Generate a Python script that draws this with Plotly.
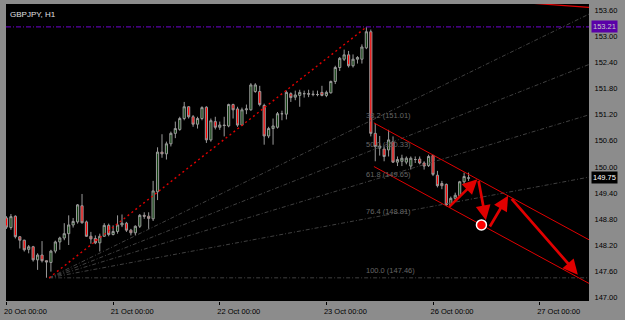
import plotly.graph_objects as go

# ---------------- data ----------------
bar_index = list(range(105))  # H1 bars, 0 = 20 Oct 00:00 (weekend skipped)
opens = [148.83, 148.61, 148.87, 148.40, 148.32, 148.11, 148.17, 147.87, 147.98, 147.85,
         147.81, 148.07, 148.28, 148.37, 148.47, 148.67, 148.74, 149.11, 148.74, 148.41,
         148.36, 148.26, 148.41, 148.66, 148.45, 148.52, 148.67, 148.71, 148.55, 148.49,
         148.64, 148.89, 148.87, 148.81, 149.43, 150.34, 150.30, 150.53, 150.77, 150.86,
         151.11, 151.38, 151.15, 150.98, 151.11, 151.37, 150.62, 151.04, 150.91, 150.96,
         150.94, 151.43, 151.33, 150.96, 151.31, 151.31, 151.73, 151.73, 151.41, 150.71,
         150.88, 150.91, 151.22, 151.21, 151.68, 151.60, 151.64, 151.68, 151.68, 151.67,
         151.66, 151.71, 151.64, 151.70, 151.96, 152.28, 152.47, 152.57, 152.32, 152.47,
         152.47, 152.73, 153.10, 150.77, 150.43, 150.41, 150.39, 150.58, 150.11, 150.13,
         150.11, 150.02, 150.17, 150.18, 150.09, 150.03, 150.26, 149.81, 149.62, 149.60,
         149.13, 149.28, 149.34, 149.66, 149.74]
highs = [148.87, 148.92, 148.89, 148.41, 148.33, 148.21, 148.19, 148.02, 148.30, 147.85,
         148.10, 148.31, 148.40, 148.71, 148.89, 148.83, 149.15, 149.38, 148.77, 148.51,
         148.43, 148.47, 148.71, 148.70, 148.66, 148.89, 148.91, 148.74, 148.58, 148.66,
         148.92, 148.96, 148.96, 149.68, 150.45, 150.75, 150.58, 150.81, 151.04, 151.15,
         151.49, 151.39, 151.19, 151.15, 151.39, 151.39, 151.11, 151.15, 151.04, 151.15,
         151.45, 151.45, 151.38, 151.36, 151.43, 151.92, 151.92, 151.86, 151.45, 150.92,
         151.11, 151.26, 151.29, 151.75, 151.71, 151.75, 151.77, 151.75, 151.77, 151.75,
         151.75, 151.86, 151.75, 151.98, 152.32, 152.52, 152.69, 152.66, 152.58, 152.54,
         152.81, 153.21, 153.15, 151.00, 150.71, 150.47, 150.85, 150.70, 150.24, 150.28,
         150.24, 150.24, 150.24, 150.24, 150.13, 150.28, 150.28, 149.91, 149.68, 149.62,
         149.32, 149.41, 149.68, 149.87, 149.87]
lows = [148.58, 148.56, 148.36, 148.13, 148.06, 148.02, 147.83, 147.64, 147.81, 147.46,
        147.60, 148.02, 148.10, 148.32, 148.21, 148.61, 148.70, 148.70, 148.40, 148.24,
        148.23, 148.06, 148.40, 148.41, 148.43, 148.47, 148.62, 148.51, 148.43, 148.43,
        148.60, 148.81, 148.58, 148.76, 149.24, 150.21, 150.17, 150.47, 150.66, 150.83,
        151.07, 151.11, 150.92, 150.88, 151.07, 150.55, 150.58, 150.86, 150.85, 150.70,
        150.91, 151.11, 150.92, 150.94, 151.21, 151.29, 151.70, 151.39, 150.51, 150.66,
        150.51, 150.88, 151.07, 151.09, 151.49, 151.53, 151.38, 151.59, 151.60, 151.62,
        151.62, 151.62, 151.60, 151.68, 151.90, 152.20, 152.43, 152.28, 152.28, 152.37,
        152.37, 152.70, 150.70, 150.13, 150.26, 150.13, 150.24, 150.09, 150.02, 150.02,
        150.06, 149.94, 150.09, 150.06, 149.94, 150.00, 149.79, 149.53, 149.49, 149.10,
        149.10, 149.23, 149.30, 149.60, 149.68]
closes = [148.62, 148.86, 148.40, 148.32, 148.10, 148.17, 147.87, 147.98, 147.85, 147.82,
          148.07, 148.28, 148.37, 148.47, 148.67, 148.75, 149.13, 148.72, 148.41, 148.35,
          148.26, 148.41, 148.66, 148.45, 148.52, 148.67, 148.71, 148.55, 148.49, 148.64,
          148.89, 148.87, 148.82, 149.45, 150.34, 150.30, 150.53, 150.77, 150.88, 151.11,
          151.38, 151.15, 150.98, 151.11, 151.36, 150.62, 151.06, 150.91, 150.96, 150.95,
          151.43, 151.31, 150.96, 151.31, 151.33, 151.88, 151.88, 151.43, 150.71, 150.88,
          150.94, 151.22, 151.22, 151.71, 151.59, 151.65, 151.71, 151.68, 151.67, 151.66,
          151.66, 151.64, 151.71, 151.96, 152.28, 152.49, 152.57, 152.32, 152.47, 152.51,
          152.75, 153.10, 150.77, 150.47, 150.48, 150.24, 150.62, 150.11, 150.17, 150.20,
          150.20, 150.20, 150.17, 150.09, 150.02, 150.24, 149.83, 149.57, 149.57, 149.13,
          149.28, 149.35, 149.66, 149.78, 149.75]

date_tick_bars = [0, 24, 48, 72, 96, 120]
date_tick_labels = ["20 Oct 00:00", "21 Oct 00:00", "22 Oct 00:00",
                    "23 Oct 00:00", "26 Oct 00:00", "27 Oct 00:00"]
price_ticks = [147.00, 147.60, 148.20, 148.80, 149.40, 150.00,
               150.60, 151.20, 151.80, 152.40, 153.00, 153.60]

symbol_label = "GBPJPY, H1"
high_line_price = 153.21
last_price = 149.75

# Fibonacci fan (anchor low -> high)
fib_low_bar, fib_low_price = 9.6, 147.457
fib_high_bar, fib_high_price = 81.0, 153.207
fib_levels = [38.2, 50.0, 61.8, 76.4, 100.0]

# Red channel (two parallel lines): upper line points, lower line offset
channel_bars = [82.7, 131.1]
channel_upper_prices = [151.01, 148.33]
channel_width = 1.00

# Line at top right
top_line_bars = [120.1, 131.1]
top_line_prices = [153.74, 153.66]

# Forecast arrows: (from bar, from price, to bar, to price)
arrow_from_bars = [99.3, 106.2, 108.6, 113.4]
arrow_from_prices = [149.05, 149.71, 148.60, 149.30]
arrow_to_bars = [106.0, 107.9, 112.9, 128.6]
arrow_to_prices = [149.72, 148.78, 149.34, 147.53]
dot_bar, dot_price = 106.9, 148.67

x_range = [-0.11, 131.11]
y_range = [146.926, 153.736]

# ---------------- figure ----------------
FONT = "Liberation Sans"
fig = go.Figure()

fig.add_trace(go.Candlestick(
    x=bar_index, open=opens, high=highs, low=lows, close=closes,
    increasing=dict(line=dict(color="#9A9A9A", width=1), fillcolor="#0E400E"),
    decreasing=dict(line=dict(color="#9A9A9A", width=1), fillcolor="#FF0000"),
    hoverinfo="skip", showlegend=False,
))

def ray(x0, y0, x1, y1, x_end):
    slope = (y1 - y0) / (x1 - x0)
    return [x0, x_end], [y0, y0 + slope * (x_end - x0)]

# purple high line
fig.add_trace(go.Scatter(x=[x_range[0], x_range[1]], y=[high_line_price, high_line_price],
                         mode="lines", line=dict(color="#5A00A8", width=1.2, dash="5px,2px,1px,2px"),
                         hoverinfo="skip", showlegend=False))

# Fib fan
rng = fib_high_price - fib_low_price
for lvl in fib_levels:
    p = fib_high_price - lvl / 100.0 * rng
    xs, ys = ray(fib_low_bar, fib_low_price, fib_high_bar, p, 140)
    fig.add_trace(go.Scatter(x=xs, y=ys, mode="lines",
                             line=dict(color="#404040", width=1, dash="4px,2px,1px,2px"),
                             hoverinfo="skip", showlegend=False))
    fig.add_annotation(x=fib_high_bar, y=p, xref="x", yref="y", text=f"{lvl:.1f} ({p:.2f})",
                       showarrow=False, xanchor="left", yanchor="bottom", xshift=-2, yshift=1,
                       font=dict(family=FONT, size=7.5, color="#666666"))
# trend line of the fan (0 level)
fig.add_trace(go.Scatter(x=[fib_low_bar, fib_high_bar], y=[fib_low_price, fib_high_price],
                         mode="lines", line=dict(color="#E00000", width=1.4, dash="2px,3px"),
                         hoverinfo="skip", showlegend=False))

# channel
for off in [0.0, channel_width]:
    xs, ys = ray(channel_bars[0], channel_upper_prices[0] - off,
                 channel_bars[1], channel_upper_prices[1] - off, 140)
    fig.add_trace(go.Scatter(x=xs, y=ys, mode="lines", line=dict(color="#E00000", width=1),
                             hoverinfo="skip", showlegend=False))

# top-right line
slope_top = (top_line_prices[1] - top_line_prices[0]) / (top_line_bars[1] - top_line_bars[0])
fig.add_trace(go.Scatter(x=[110, 140],
                         y=[top_line_prices[0] + slope_top * (110 - top_line_bars[0]),
                            top_line_prices[0] + slope_top * (140 - top_line_bars[0])],
                         mode="lines", line=dict(color="#E00000", width=1.2),
                         hoverinfo="skip", showlegend=False))

# arrows
for fx, fy, tx, ty in zip(arrow_from_bars, arrow_from_prices, arrow_to_bars, arrow_to_prices):
    fig.add_annotation(x=tx, y=ty, ax=fx, ay=fy, xref="x", yref="y", axref="x", ayref="y",
                       text="", showarrow=True, arrowhead=2, arrowsize=1.1, arrowwidth=2.7,
                       arrowcolor="#E00000")

# dot
fig.add_trace(go.Scatter(x=[dot_bar], y=[dot_price], mode="markers",
                         marker=dict(color="#FF0000", size=10, line=dict(color="white", width=1.5)),
                         hoverinfo="skip", showlegend=False))

# symbol label
fig.add_annotation(x=0.003, y=0.985, xref="paper", yref="paper", text=symbol_label,
                   showarrow=False, xanchor="left", yanchor="top",
                   font=dict(family=FONT, size=8, color="#E0E0E0"))

# price boxes on axis
fig.add_annotation(x=1, y=high_line_price, xref="paper", yref="y", text=f"{high_line_price:.2f}",
                   showarrow=False, xanchor="left", xshift=2, bgcolor="#5A00A8", borderpad=1,
                   font=dict(family=FONT, size=7.5, color="#C8C8C8"))
fig.add_annotation(x=1, y=last_price, xref="paper", yref="y", text=f"{last_price:.2f}",
                   showarrow=False, xanchor="left", xshift=2, bgcolor="#000000", borderpad=1,
                   font=dict(family=FONT, size=7.5, color="#FFFFFF"))

fig.update_layout(
    width=625, height=320,
    margin=dict(l=4, r=36, t=4, b=15),
    paper_bgcolor="#8C8C8C", plot_bgcolor="#000000",
    showlegend=False, hovermode=False,
    xaxis=dict(range=x_range, rangeslider=dict(visible=False), showgrid=False, zeroline=False,
               tickmode="array", tickvals=date_tick_bars, ticktext=date_tick_labels,
               ticks="outside", ticklen=3, tickcolor="#000000", ticklabelshift=19,
               tickfont=dict(family=FONT, size=7.5, color="#000000")),
    yaxis=dict(range=y_range, side="right", showgrid=False, zeroline=False,
               tickmode="array", tickvals=price_ticks,
               ticktext=[f"{v:.2f}" for v in price_ticks],
               ticks="outside", ticklen=3, tickcolor="#8C8C8C",
               tickfont=dict(family=FONT, size=7.5, color="#000000")),
)

fig.write_html("out.html")
